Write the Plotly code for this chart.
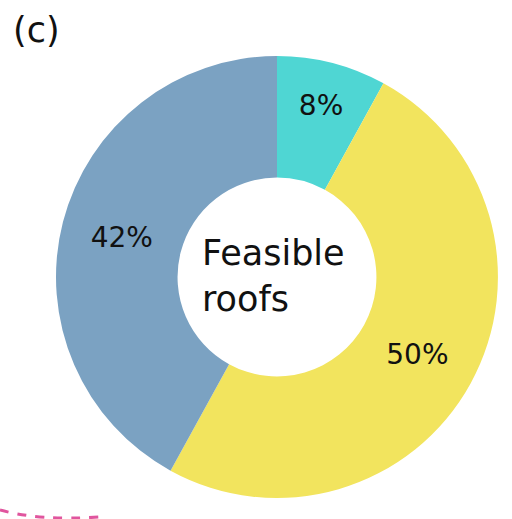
import plotly.graph_objects as go

labels = ["Type A", "Type B", "Type C"]
values = [8, 50, 42]
colors = ["#4FD6D3", "#F2E45E", "#7BA2C2"]
text_labels = ["8%", "50%", "42%"]
center_text = "Feasible<br>roofs"
panel_label = "(c)"

FONT = "DejaVu Sans, sans-serif"
W, H = 512, 519
fig = go.Figure(go.Pie(
    labels=labels, values=values, hole=0.45, sort=False, direction="clockwise",
    rotation=0, marker=dict(colors=colors, line=dict(width=0)),
    text=text_labels, textinfo="text", textposition="inside",
    insidetextorientation="horizontal",
    textfont=dict(family=FONT, size=28, color="#111111"),
    domain=dict(x=[56 / W, 498 / W], y=[1 - 498 / H, 1 - 56 / H]),
    showlegend=False,
))
fig.add_annotation(text=center_text, x=200 / W, y=1 - 276 / H, xref="paper", yref="paper",
                   xanchor="left", showarrow=False, align="left",
                   font=dict(family=FONT, size=35, color="#111111"))
fig.add_annotation(text=panel_label, x=11 / W, y=1 - 30 / H, xref="paper", yref="paper",
                   xanchor="left", yanchor="middle", showarrow=False,
                   font=dict(family=FONT, size=35, color="#111111"))
fig.add_shape(type="path", xref="paper", yref="paper",
              path=f"M 0 {1-510/H} Q {40/W} {1-521/H} {100/W} {1-517/H}",
              line=dict(color="#E0559E", width=3, dash="dash"))
fig.update_layout(width=W, height=H, margin=dict(l=0, r=0, t=0, b=0),
                  paper_bgcolor="white", plot_bgcolor="white")
fig.write_html("out.html")
